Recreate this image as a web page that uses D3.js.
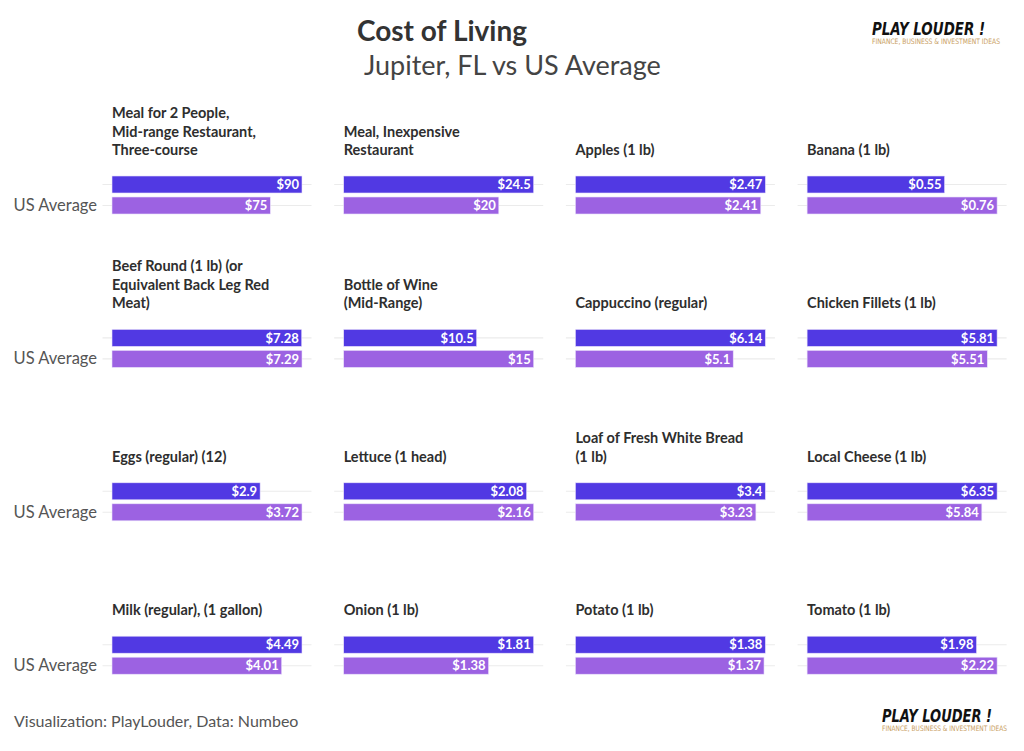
<!DOCTYPE html>
<html>
<head>
<meta charset="utf-8">
<script src="https://cdn.jsdelivr.net/npm/d3@7"></script>
<style>
	body { margin: 0; background: #fff; }
	text { font-family: Lato, "Noto Sans", sans-serif; }
	.logo-big { font-family: "DejaVu Sans Condensed", "DejaVu Sans", sans-serif; font-weight: bold; font-style: italic; }
	.logo-small { font-family: "DejaVu Sans Condensed", "DejaVu Sans", sans-serif; }
</style>
</head>
<body>
<script>
// categories (panel titles, line breaks as in the picture)
var items = [
	'Meal for 2 People,\nMid-range Restaurant,\nThree-course',
	'Meal, Inexpensive\nRestaurant',
	'Apples (1 lb)',
	'Banana (1 lb)',
	'Beef Round (1 lb) (or\nEquivalent Back Leg Red\nMeat)',
	'Bottle of Wine\n(Mid-Range)',
	'Cappuccino (regular)',
	'Chicken Fillets (1 lb)',
	'Eggs (regular) (12)',
	'Lettuce (1 head)',
	'Loaf of Fresh White Bread\n(1 lb)',
	'Local Cheese (1 lb)',
	'Milk (regular), (1 gallon)',
	'Onion (1 lb)',
	'Potato (1 lb)',
	'Tomato (1 lb)'
];
var places = ['Jupiter, FL', 'US Average'];
var placeTicks = ['', 'US Average'];
var jupiter = [90, 24.5, 2.47, 0.55, 7.28, 10.5, 6.14, 5.81, 2.9, 2.08, 3.4, 6.35, 4.49, 1.81, 1.38, 1.98];
var usAverage = [75, 20, 2.41, 0.76, 7.29, 15, 5.1, 5.51, 3.72, 2.16, 3.23, 5.84, 4.01, 1.38, 1.37, 2.22];

var colors = { 'Jupiter, FL': '#5139e3', 'US Average': '#9c62e2' };

var props = {
	width: 1024,
	height: 751,
	cols: 4,
	panelLeft: 102.5,
	panelTop: 174,
	panelWidth: 209,
	panelHeight: 42,
	colStep: 231.7,
	rowStep: 153.4
};

var svg = d3.select('body')
	.append('svg')
		.attr('width', props.width)
		.attr('height', props.height);

// title block
svg.append('text')
	.attr('x', 357)
	.attr('y', 41)
	.attr('font-size', 28)
	.attr('font-weight', 'bold')
	.attr('fill', '#333')
	.text('Cost of Living');
svg.append('text')
	.attr('x', 364)
	.attr('y', 75)
	.attr('font-size', 27)
	.attr('fill', '#444')
	.text('Jupiter, FL vs US Average');

function addLogo(x, y, w, w2) {
	var g = svg.append('g').attr('transform', 'translate(' + x + ',' + y + ')');
	g.append('text')
		.attr('class', 'logo-big')
		.attr('font-size', 18)
		.attr('textLength', w)
		.attr('lengthAdjust', 'spacingAndGlyphs')
		.attr('fill', '#111')
		.text('PLAY LOUDER !');
	g.append('text')
		.attr('class', 'logo-small')
		.attr('y', 9)
		.attr('font-size', 7.5)
		.attr('textLength', w2)
		.attr('lengthAdjust', 'spacingAndGlyphs')
		.attr('fill', '#c9a063')
		.text('FINANCE, BUSINESS & INVESTMENT IDEAS');
}
addLogo(872, 35, 113, 128);
addLogo(882, 722, 110, 125);

svg.append('text')
	.attr('x', 14)
	.attr('y', 727)
	.attr('font-size', 16)
	.attr('fill', '#555')
	.text('Visualization: PlayLouder, Data: Numbeo');

items.forEach(function(item, i) {
	var col = i % props.cols;
	var row = Math.floor(i / props.cols);
	var left = props.panelLeft + col * props.colStep;
	var top = props.panelTop + row * props.rowStep;
	var values = [jupiter[i], usAverage[i]];
	var max = d3.max(values);

	var x = d3.scaleLinear()
		.domain([-0.05 * max, 1.05 * max])
		.range([left, left + props.panelWidth]);
	var y = d3.scaleBand()
		.domain(places)
		.range([top, top + props.panelHeight])
		.paddingInner(0.19)
		.paddingOuter(0.095);

	var panel = svg.append('g').attr('class', 'panel');

	// grid lines
	panel.selectAll('line.grid')
		.data(places)
		.enter().append('line')
			.attr('class', 'grid')
			.attr('x1', left)
			.attr('x2', left + props.panelWidth)
			.attr('y1', function(d) { return y(d) + y.bandwidth() / 2; })
			.attr('y2', function(d) { return y(d) + y.bandwidth() / 2; })
			.attr('stroke', '#ebebeb')
			.attr('stroke-width', 1.1);

	panel.selectAll('rect')
		.data(places)
		.enter().append('rect')
			.attr('x', x(0))
			.attr('y', function(d) { return y(d); })
			.attr('width', function(d, j) { return x(values[j]) - x(0); })
			.attr('height', y.bandwidth())
			.attr('fill', function(d) { return colors[d]; })
			.attr('stroke', '#e9e2fb')
			.attr('stroke-width', 0.6);

	panel.selectAll('text.value')
		.data(places)
		.enter().append('text')
			.attr('class', 'value')
			.attr('x', function(d, j) { return x(values[j]) - 3; })
			.attr('y', function(d) { return y(d) + y.bandwidth() / 2; })
			.attr('dy', '0.36em')
			.attr('text-anchor', 'end')
			.attr('font-size', 13)
			.attr('font-weight', 'bold')
			.attr('fill', '#fff')
			.text(function(d, j) { return '$' + values[j]; });

	// strip title, bottom-aligned above the bars
	var lines = item.split('\n');
	panel.append('text')
		.attr('font-size', 14.5)
		.attr('font-weight', 'bold')
		.attr('fill', '#2e2e2e')
		.selectAll('tspan')
		.data(lines)
		.enter().append('tspan')
			.attr('x', x(0))
			.attr('y', function(d, k) { return top - 19 - (lines.length - 1 - k) * 18.5; })
			.text(function(d) { return d; });

	// y axis labels on the first column
	if (col === 0) {
		var yAxis = d3.axisLeft(y)
			.tickSize(0)
			.tickPadding(5)
			.tickFormat(function(d, j) { return placeTicks[j]; });
		var ax = svg.append('g')
			.attr('class', 'y axis')
			.attr('transform', 'translate(' + (left - 0.5) + ',0)')
			.call(yAxis);
		ax.select('.domain').remove();
		ax.selectAll('text')
			.attr('font-size', 16.5)
			.attr('fill', '#555')
			.style('font-family', 'Lato, sans-serif');
	}
});
</script>
</body>
</html>
